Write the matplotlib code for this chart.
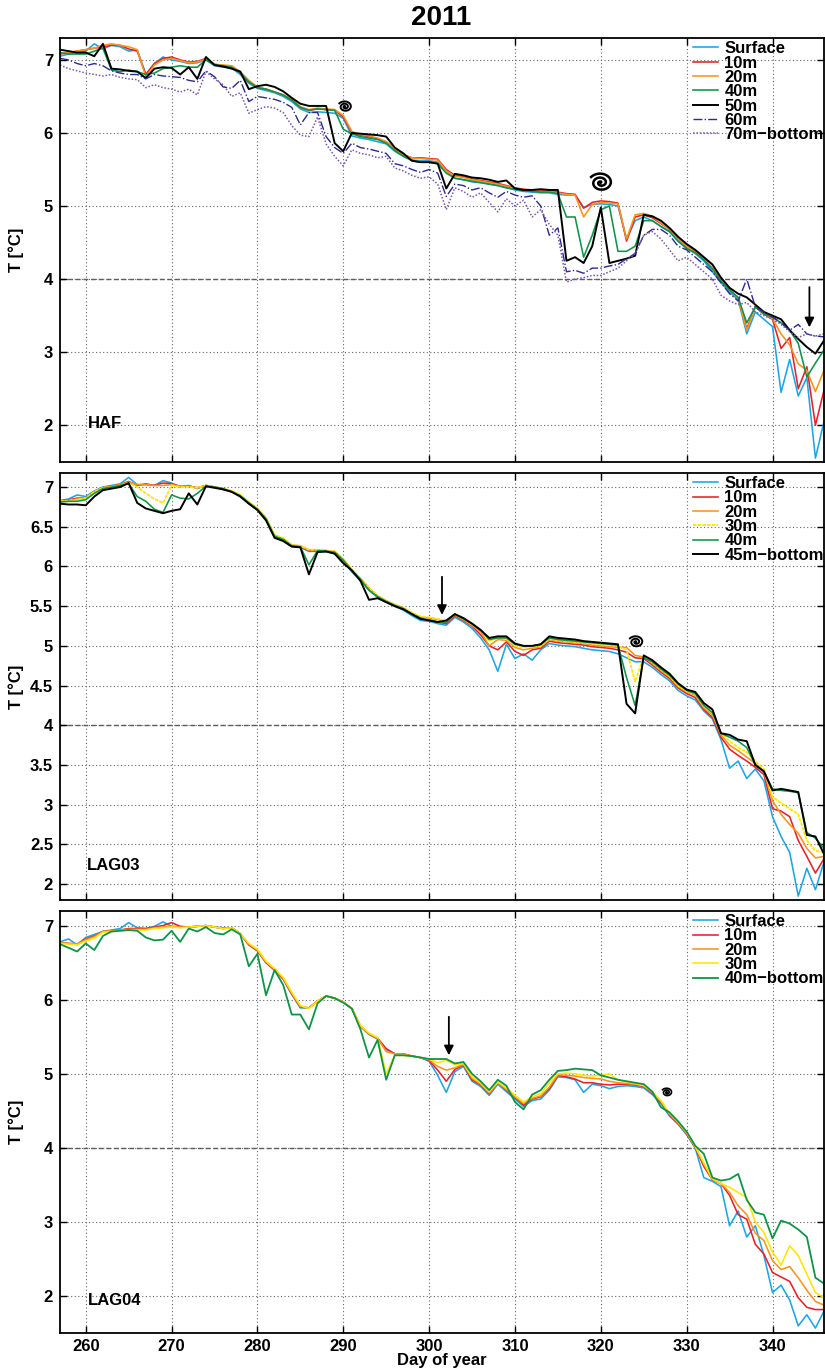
import numpy as np
import matplotlib
matplotlib.use('Agg')
import matplotlib.pyplot as plt
from matplotlib import transforms

plt.rcParams['font.family'] = ['Liberation Sans', 'DejaVu Sans']
plt.rcParams['font.weight'] = 'bold'

# ---------------- data (daily values, day of year 257..346) ----------------
days = np.arange(257, 347)

# HAF
haf_surface = [7.05, 7.08, 7.10, 7.12, 7.22, 7.15, 7.20, 7.18, 7.12, 7.14,
               6.80, 6.95, 7.04, 7.00, 6.98, 6.95, 6.96, 7.00, 6.92, 6.90,
               6.89, 6.80, 6.68, 6.61, 6.58, 6.55, 6.50, 6.43, 6.33, 6.28,
               6.29, 6.28, 6.27, 6.20, 5.96, 5.93, 5.91, 5.88, 5.85, 5.75,
               5.68, 5.63, 5.62, 5.62, 5.60, 5.48, 5.38, 5.36, 5.33, 5.32,
               5.30, 5.28, 5.25, 5.22, 5.20, 5.19, 5.18, 5.18, 5.16, 5.15,
               5.15, 4.98, 5.02, 5.03, 5.02, 5.00, 4.55, 4.80, 4.85, 4.80,
               4.72, 4.65, 4.52, 4.42, 4.35, 4.25, 4.10, 3.95, 3.82, 3.72,
               3.25, 3.55, 3.45, 3.35, 2.45, 2.90, 2.40, 2.65, 1.55, 2.05]
haf_10m = [7.08, 7.10, 7.12, 7.14, 7.16, 7.18, 7.20, 7.20, 7.15, 7.12,
           6.80, 6.95, 7.02, 7.04, 7.00, 6.97, 6.98, 7.02, 6.94, 6.92,
           6.90, 6.82, 6.70, 6.62, 6.60, 6.56, 6.52, 6.45, 6.35, 6.31,
           6.33, 6.32, 6.31, 6.22, 6.00, 5.97, 5.95, 5.92, 5.88, 5.78,
           5.70, 5.66, 5.66, 5.65, 5.64, 5.50, 5.42, 5.40, 5.37, 5.35,
           5.33, 5.31, 5.28, 5.25, 5.23, 5.22, 5.21, 5.21, 5.19, 5.17,
           5.16, 4.97, 5.05, 5.07, 5.06, 5.04, 4.52, 4.85, 4.88, 4.84,
           4.76, 4.68, 4.55, 4.45, 4.38, 4.28, 4.15, 3.98, 3.85, 3.74,
           3.32, 3.62, 3.52, 3.45, 3.05, 3.20, 2.50, 2.80, 2.00, 2.48]
haf_20m = [7.08, 7.10, 7.12, 7.14, 7.16, 7.20, 7.22, 7.20, 7.18, 7.14,
           6.77, 6.93, 7.00, 7.02, 6.99, 6.96, 6.97, 7.01, 6.94, 6.93,
           6.92, 6.84, 6.72, 6.63, 6.60, 6.56, 6.52, 6.46, 6.36, 6.32,
           6.34, 6.33, 6.32, 6.24, 6.02, 5.98, 5.96, 5.93, 5.88, 5.78,
           5.70, 5.66, 5.65, 5.64, 5.63, 5.48, 5.41, 5.39, 5.36, 5.34,
           5.32, 5.30, 5.27, 5.24, 5.22, 5.21, 5.20, 5.20, 5.18, 5.16,
           5.15, 4.85, 5.02, 5.05, 5.04, 5.03, 4.55, 4.88, 4.90, 4.86,
           4.77, 4.68, 4.55, 4.45, 4.37, 4.27, 4.15, 3.97, 3.85, 3.74,
           3.30, 3.62, 3.53, 3.46, 3.25, 3.10, 2.84, 2.75, 2.46, 2.75]
haf_40m = [7.10, 7.08, 7.08, 7.08, 7.12, 7.16, 6.86, 6.84, 6.86, 6.84,
           6.80, 6.82, 6.88, 6.90, 6.92, 6.90, 6.90, 7.00, 6.93, 6.92,
           6.90, 6.82, 6.70, 6.62, 6.60, 6.56, 6.52, 6.45, 6.35, 6.31,
           6.33, 6.32, 6.31, 6.05, 5.99, 5.95, 5.93, 5.91, 5.86, 5.76,
           5.68, 5.62, 5.60, 5.60, 5.58, 5.45, 5.38, 5.36, 5.34, 5.32,
           5.30, 5.28, 5.25, 5.23, 5.21, 5.20, 5.19, 5.19, 5.17, 4.85,
           4.85, 4.30, 4.60, 4.95, 5.00, 4.38, 4.38, 4.45, 4.80, 4.80,
           4.72, 4.65, 4.52, 4.42, 4.36, 4.26, 4.14, 3.97, 3.85, 3.75,
           3.40, 3.62, 3.52, 3.48, 3.40, 3.30, 3.12, 2.66, 2.85, 3.03]
haf_50m = [7.14, 7.12, 7.10, 7.10, 7.05, 7.22, 6.88, 6.87, 6.85, 6.84,
           6.75, 6.88, 6.90, 6.89, 6.80, 6.90, 6.74, 7.04, 6.93, 6.91,
           6.88, 6.84, 6.60, 6.64, 6.66, 6.63, 6.57, 6.48, 6.40, 6.37,
           6.37, 6.37, 5.86, 5.75, 6.00, 5.99, 5.98, 5.97, 5.95, 5.80,
           5.72, 5.62, 5.60, 5.60, 5.58, 5.24, 5.44, 5.42, 5.39, 5.38,
           5.36, 5.33, 5.35, 5.24, 5.22, 5.22, 5.23, 5.22, 5.22, 4.25,
           4.30, 4.22, 4.45, 4.98, 4.22, 4.25, 4.28, 4.32, 4.88, 4.86,
           4.80, 4.70, 4.58, 4.48, 4.40, 4.30, 4.20, 4.02, 3.88, 3.80,
           3.75, 3.65, 3.55, 3.50, 3.45, 3.30, 3.18, 3.07, 2.98, 3.16]
haf_60m = [7.02, 7.00, 6.95, 6.92, 6.95, 6.92, 6.85, 6.82, 6.80, 6.80,
           6.74, 6.80, 6.78, 6.77, 6.76, 6.72, 6.70, 6.85, 6.77, 6.63,
           6.61, 6.72, 6.43, 6.50, 6.48, 6.46, 6.42, 6.35, 6.11, 6.28,
           6.28, 5.95, 5.80, 5.72, 5.86, 5.80, 5.78, 5.75, 5.72, 5.58,
           5.55, 5.50, 5.46, 5.50, 5.45, 5.13, 5.30, 5.28, 5.22, 5.25,
           5.18, 5.12, 5.20, 5.15, 5.12, 5.14, 5.00, 4.60, 4.70, 4.10,
           4.12, 4.08, 4.15, 4.15, 4.18, 4.20, 4.28, 4.35, 4.60, 4.68,
           4.68, 4.60, 4.45, 4.40, 4.30, 4.20, 4.10, 3.95, 3.80, 3.70,
           4.00, 3.62, 3.55, 3.48, 3.40, 3.30, 3.38, 3.25, 3.22, 3.21]
haf_70m = [6.93, 6.88, 6.85, 6.82, 6.80, 6.78, 6.80, 6.76, 6.74, 6.73,
           6.62, 6.66, 6.62, 6.60, 6.56, 6.60, 6.52, 6.84, 6.74, 6.66,
           6.50, 6.55, 6.27, 6.32, 6.36, 6.34, 6.28, 6.10, 5.97, 5.95,
           6.22, 5.85, 5.68, 5.55, 5.77, 5.72, 5.70, 5.66, 5.68, 5.52,
           5.48, 5.42, 5.38, 5.40, 5.30, 4.95, 5.25, 5.20, 5.12, 5.18,
           5.05, 4.92, 5.10, 5.00, 5.08, 4.85, 4.95, 4.75, 4.60, 3.96,
           4.00, 4.02, 4.05, 4.05, 4.10, 4.15, 4.25, 4.35, 4.60, 4.65,
           4.55, 4.40, 4.25, 4.30, 4.20, 4.10, 4.00, 3.78, 3.70, 3.65,
           3.68, 3.55, 3.50, 3.45, 3.38, 3.28, 3.20, 3.25, 3.22, 3.25]

# LAG03
lag03_surface = [6.83, 6.85, 6.90, 6.88, 6.95, 7.00, 7.02, 7.04, 7.12, 7.03,
                 7.03, 7.02, 7.08, 7.05, 7.00, 7.02, 6.98, 7.02, 7.00, 6.98,
                 6.94, 6.88, 6.79, 6.71, 6.59, 6.37, 6.33, 6.25, 6.24, 6.19,
                 6.19, 6.18, 6.17, 6.07, 5.93, 5.82, 5.70, 5.61, 5.55, 5.50,
                 5.45, 5.38, 5.32, 5.31, 5.28, 5.26, 5.36, 5.30, 5.22, 5.10,
                 4.95, 4.68, 5.02, 4.84, 4.90, 4.82, 4.95, 5.03, 5.01, 5.00,
                 4.99, 4.97, 4.95, 4.94, 4.93, 4.90, 4.85, 4.80, 4.80, 4.73,
                 4.64, 4.56, 4.44, 4.37, 4.32, 4.18, 4.08, 3.82, 3.46, 3.55,
                 3.33, 3.45, 3.30, 2.85, 2.60, 2.40, 1.85, 2.20, 1.93, 2.28]
lag03_10m = [6.82, 6.84, 6.86, 6.86, 6.94, 6.99, 7.01, 7.03, 7.07, 7.02,
             7.04, 7.02, 7.05, 7.04, 7.01, 7.01, 6.99, 7.02, 7.00, 6.97,
             6.94, 6.89, 6.80, 6.72, 6.60, 6.38, 6.34, 6.26, 6.25, 6.20,
             6.20, 6.19, 6.18, 6.08, 5.95, 5.84, 5.72, 5.62, 5.56, 5.51,
             5.47, 5.40, 5.34, 5.33, 5.30, 5.28, 5.38, 5.32, 5.25, 5.14,
             5.00, 4.95, 5.05, 4.93, 4.88, 4.95, 4.97, 5.06, 5.04, 5.03,
             5.02, 5.01, 4.99, 4.98, 4.97, 4.95, 4.92, 4.85, 4.84, 4.76,
             4.67, 4.59, 4.47, 4.40, 4.35, 4.20, 4.10, 3.85, 3.70, 3.62,
             3.55, 3.47, 3.38, 2.95, 2.92, 2.85, 2.55, 2.35, 2.14, 2.32]
lag03_20m = [6.82, 6.83, 6.85, 6.86, 6.94, 6.99, 7.01, 7.03, 7.06, 7.03,
             7.03, 7.02, 7.02, 7.03, 7.01, 7.01, 6.99, 7.02, 7.00, 6.98,
             6.95, 6.90, 6.81, 6.73, 6.61, 6.39, 6.35, 6.27, 6.26, 6.21,
             6.21, 6.20, 6.19, 6.09, 5.96, 5.85, 5.73, 5.63, 5.57, 5.52,
             5.48, 5.41, 5.36, 5.35, 5.33, 5.30, 5.39, 5.33, 5.26, 5.18,
             5.00, 5.08, 5.07, 4.98, 4.95, 4.97, 4.99, 5.08, 5.06, 5.05,
             5.04, 5.03, 5.01, 5.00, 4.99, 4.98, 4.98, 4.88, 4.86, 4.78,
             4.69, 4.61, 4.49, 4.42, 4.38, 4.22, 4.13, 3.88, 3.75, 3.68,
             3.60, 3.52, 3.42, 3.05, 2.88, 2.75, 2.64, 2.45, 2.33, 2.35]
lag03_30m = [6.82, 6.83, 6.84, 6.86, 6.94, 6.99, 7.00, 7.02, 7.05, 7.00,
             6.92, 6.85, 6.80, 7.02, 7.00, 7.00, 6.99, 7.02, 7.00, 6.98,
             6.95, 6.90, 6.81, 6.73, 6.61, 6.40, 6.36, 6.27, 6.26, 6.21,
             6.21, 6.20, 6.19, 6.09, 5.96, 5.85, 5.73, 5.63, 5.57, 5.52,
             5.48, 5.42, 5.37, 5.36, 5.34, 5.31, 5.40, 5.34, 5.27, 5.20,
             5.06, 5.10, 5.09, 5.00, 4.98, 4.99, 5.00, 5.09, 5.07, 5.06,
             5.05, 5.04, 5.03, 5.02, 5.01, 5.00, 4.95, 4.55, 4.87, 4.79,
             4.70, 4.62, 4.50, 4.43, 4.39, 4.24, 4.15, 3.90, 3.80, 3.72,
             3.66, 3.55, 3.45, 3.10, 3.02, 2.95, 2.88, 2.55, 2.42, 2.40]
lag03_40m = [6.81, 6.82, 6.82, 6.84, 6.92, 6.98, 7.00, 7.02, 7.04, 6.88,
             6.82, 6.72, 6.68, 6.90, 6.86, 6.85, 6.92, 7.01, 7.00, 6.98,
             6.94, 6.89, 6.80, 6.72, 6.60, 6.38, 6.34, 6.26, 6.25, 6.02,
             6.20, 6.19, 6.18, 6.08, 5.95, 5.84, 5.70, 5.62, 5.56, 5.51,
             5.47, 5.40, 5.35, 5.32, 5.30, 5.30, 5.40, 5.34, 5.28, 5.20,
             5.08, 5.10, 5.10, 5.02, 5.00, 5.00, 5.02, 5.10, 5.08, 5.07,
             5.06, 5.05, 5.04, 5.03, 5.02, 5.01, 4.60, 4.25, 4.85, 4.80,
             4.71, 4.63, 4.52, 4.44, 4.40, 4.25, 4.16, 3.90, 3.85, 3.80,
             3.72, 3.50, 3.42, 3.20, 3.18, 3.17, 3.15, 2.65, 2.58, 2.45]
lag03_45m = [6.79, 6.78, 6.78, 6.77, 6.88, 6.96, 6.98, 7.00, 7.05, 6.80,
             6.73, 6.70, 6.67, 6.70, 6.72, 6.92, 6.78, 7.01, 6.99, 6.97,
             6.94, 6.88, 6.79, 6.71, 6.58, 6.36, 6.32, 6.25, 6.24, 5.90,
             6.18, 6.19, 6.16, 6.04, 5.95, 5.82, 5.58, 5.60, 5.55, 5.50,
             5.46, 5.40, 5.34, 5.32, 5.30, 5.32, 5.40, 5.35, 5.28, 5.20,
             5.10, 5.12, 5.12, 5.03, 5.00, 5.00, 5.02, 5.12, 5.10, 5.09,
             5.08, 5.06, 5.05, 5.04, 5.03, 5.02, 4.27, 4.15, 4.88, 4.82,
             4.73, 4.65, 4.53, 4.45, 4.42, 4.28, 4.20, 3.90, 3.88, 3.82,
             3.80, 3.50, 3.42, 3.18, 3.20, 3.18, 3.16, 2.62, 2.60, 2.38]

# LAG04
lag04_surface = [6.78, 6.82, 6.74, 6.84, 6.88, 6.92, 6.94, 6.96, 7.04, 6.97,
                 6.96, 6.99, 7.05, 6.99, 6.98, 6.98, 6.99, 7.00, 6.98, 6.97,
                 6.97, 6.89, 6.74, 6.66, 6.50, 6.40, 6.28, 6.07, 5.89, 5.89,
                 5.98, 6.05, 6.02, 5.97, 5.88, 5.64, 5.53, 5.47, 5.33, 5.27,
                 5.26, 5.24, 5.22, 5.17, 4.98, 4.75, 5.03, 5.10, 4.90, 4.83,
                 4.71, 4.86, 4.76, 4.66, 4.56, 4.64, 4.66, 4.78, 4.96, 4.95,
                 4.92, 4.75, 4.86, 4.84, 4.80, 4.83, 4.84, 4.83, 4.81, 4.72,
                 4.60, 4.43, 4.32, 4.18, 4.00, 3.60, 3.55, 3.48, 2.95, 3.15,
                 2.80, 2.95, 2.55, 2.05, 2.15, 1.95, 1.60, 1.75, 1.57, 1.80]
lag04_10m = [6.77, 6.76, 6.75, 6.82, 6.86, 6.92, 6.93, 6.94, 6.96, 6.96,
             6.96, 6.98, 7.00, 7.04, 6.99, 6.98, 6.99, 7.00, 6.98, 6.96,
             6.97, 6.89, 6.74, 6.66, 6.50, 6.40, 6.28, 6.08, 5.90, 5.89,
             5.98, 6.05, 6.02, 5.97, 5.88, 5.64, 5.54, 5.48, 5.34, 5.27,
             5.27, 5.24, 5.22, 5.18, 5.05, 4.90, 5.06, 5.12, 4.92, 4.85,
             4.73, 4.88, 4.78, 4.68, 4.58, 4.66, 4.69, 4.80, 4.98, 4.96,
             4.93, 4.88, 4.88, 4.86, 4.85, 4.86, 4.86, 4.85, 4.83, 4.74,
             4.62, 4.45, 4.33, 4.19, 4.01, 3.75, 3.57, 3.52, 3.36, 3.10,
             3.04, 2.70, 2.57, 2.32, 2.26, 2.20, 1.98, 1.85, 1.82, 1.82]
lag04_20m = [6.77, 6.76, 6.75, 6.81, 6.85, 6.92, 6.93, 6.94, 6.95, 6.95,
             6.95, 6.97, 6.98, 6.99, 6.98, 6.98, 6.99, 7.00, 6.98, 6.96,
             6.97, 6.89, 6.75, 6.67, 6.51, 6.41, 6.29, 6.09, 5.91, 5.89,
             5.98, 6.05, 6.02, 5.97, 5.88, 5.65, 5.54, 5.48, 5.30, 5.27,
             5.27, 5.24, 5.22, 5.19, 5.10, 5.05, 5.08, 5.13, 4.94, 4.86,
             4.74, 4.88, 4.79, 4.69, 4.60, 4.67, 4.70, 4.82, 4.99, 4.98,
             4.97, 4.95, 4.94, 4.93, 4.90, 4.88, 4.87, 4.86, 4.84, 4.75,
             4.63, 4.46, 4.34, 4.20, 4.02, 3.78, 3.58, 3.52, 3.40, 3.22,
             3.10, 2.85, 2.75, 2.48, 2.36, 2.40, 2.25, 2.08, 1.93, 1.88]
lag04_30m = [6.76, 6.75, 6.74, 6.79, 6.83, 6.91, 6.92, 6.93, 6.94, 6.94,
             6.94, 6.96, 6.97, 6.98, 6.97, 6.98, 6.99, 7.00, 6.98, 6.96,
             6.97, 6.89, 6.76, 6.68, 6.52, 6.42, 6.30, 6.10, 5.92, 5.88,
             5.98, 6.05, 6.02, 5.97, 5.88, 5.65, 5.55, 5.49, 5.00, 5.25,
             5.25, 5.24, 5.22, 5.20, 5.15, 5.18, 5.12, 5.14, 4.96, 4.88,
             4.76, 4.89, 4.81, 4.71, 4.62, 4.69, 4.73, 4.88, 5.00, 5.01,
             5.00, 4.98, 4.97, 4.98, 5.00, 4.92, 4.89, 4.87, 4.84, 4.76,
             4.64, 4.47, 4.35, 4.21, 4.02, 3.80, 3.58, 3.52, 3.47, 3.40,
             3.33, 3.00, 2.86, 2.60, 2.42, 2.68, 2.55, 2.30, 2.05, 1.98]
lag04_40m = [6.75, 6.70, 6.65, 6.76, 6.67, 6.86, 6.92, 6.93, 6.94, 6.93,
             6.84, 6.80, 6.81, 6.93, 6.78, 6.96, 6.92, 6.98, 6.90, 6.88,
             6.95, 6.88, 6.45, 6.62, 6.06, 6.40, 6.20, 5.80, 5.80, 5.60,
             5.95, 6.05, 6.02, 5.96, 5.88, 5.60, 5.22, 5.46, 4.92, 5.25,
             5.25, 5.24, 5.22, 5.20, 5.20, 5.20, 5.14, 5.16, 5.00, 4.90,
             4.78, 4.92, 4.84, 4.62, 4.52, 4.72, 4.78, 4.92, 5.04, 5.05,
             5.07, 5.06, 5.05, 4.98, 4.95, 4.92, 4.90, 4.88, 4.86, 4.76,
             4.55, 4.48, 4.36, 4.22, 4.03, 3.92, 3.60, 3.56, 3.58, 3.65,
             3.30, 3.13, 3.10, 2.78, 3.02, 2.98, 2.90, 2.80, 2.25, 2.17]

haf_labels = ['Surface', '10m', '20m', '40m', '50m', '60m', '70m\u2212bottom']
lag03_labels = ['Surface', '10m', '20m', '30m', '40m', '45m\u2212bottom']
lag04_labels = ['Surface', '10m', '20m', '30m', '40m\u2212bottom']
xticks = [260, 270, 280, 290, 300, 310, 320, 330, 340]

# ---------------- styles ----------------
C_SURF = '#1DA5E6'
C_10 = '#E8202A'
C_20 = '#F7941E'
C_30 = '#FFE600'
C_40 = '#0E9447'
C_50 = '#000000'
C_60 = '#2C2A8E'
C_70 = '#7D55AE'

fig = plt.figure(figsize=(8.25, 13.71), dpi=100)
L, W = 0.0727, 0.9261
ax1 = fig.add_axes([L, 0.6632, W, 0.3091])
ax2 = fig.add_axes([L, 0.3435, W, 0.3117])
ax3 = fig.add_axes([L, 0.0275, W, 0.3082])

LW = 1.15


def style(ax, ylim, yticks, ytlabels, xlabels=False):
    ax.set_xlim(257, 346)
    ax.set_ylim(*ylim)
    ax.set_xticks(xticks)
    if not xlabels:
        ax.set_xticklabels([])
    ax.set_yticks(yticks)
    ax.set_yticklabels(ytlabels)
    ax.grid(True, linestyle=(0, (1, 2.2)), color='0.4', linewidth=0.8)
    ax.axhline(4, color='0.35', linestyle=(0, (3.5, 2)), linewidth=1.0, zorder=1)
    ax.tick_params(direction='in', top=True, right=True, length=5, width=1.0,
                   labelsize=12, pad=5)
    for s in ax.spines.values():
        s.set_linewidth(1.3)
    ax.set_ylabel('T [\u00b0C]', fontsize=12, fontweight='bold')
    ax.yaxis.set_label_coords(-0.047, 0.5)


def legend(ax):
    ax.legend(loc='upper right', bbox_to_anchor=(1.004, 1.0), frameon=False,
              fontsize=12, handlelength=1.55, handletextpad=0.36,
              labelspacing=-0.04, borderpad=0.2, borderaxespad=0.0)


def spiral(ax, x, y, size_px, lw=1.4):
    t = np.linspace(0.0, 2.4 * 2 * np.pi, 300)
    r = t / t[-1]
    xs = r * np.cos(t) * size_px / 2 / 100.0
    ys = r * np.sin(t) * size_px / 2 * 0.8 / 100.0
    trans = fig.dpi_scale_trans + transforms.ScaledTranslation(x, y, ax.transData)
    ax.plot(xs, ys, color='k', lw=lw, transform=trans, clip_on=False)


def arrow(ax, x, y0, y1):
    ax.annotate('', xy=(x, y1), xytext=(x, y0),
                arrowprops=dict(arrowstyle='-|>', color='k', lw=1.3,
                                mutation_scale=14, shrinkA=0, shrinkB=0))


# ---------------- HAF ----------------
ax1.plot(days, haf_surface, color=C_SURF, lw=LW, label=haf_labels[0])
ax1.plot(days, haf_10m, color=C_10, lw=LW, label=haf_labels[1])
ax1.plot(days, haf_20m, color=C_20, lw=LW, label=haf_labels[2])
ax1.plot(days, haf_40m, color=C_40, lw=LW, label=haf_labels[3])
ax1.plot(days, haf_50m, color=C_50, lw=1.4, label=haf_labels[4])
ax1.plot(days, haf_60m, color=C_60, lw=1.0, linestyle='-.', label=haf_labels[5])
ax1.plot(days, haf_70m, color=C_70, lw=1.1, linestyle=(0, (1, 1.2)), label=haf_labels[6])
legend(ax1)
spiral(ax1, 290.2, 6.36, 14)
spiral(ax1, 320.0, 5.32, 24, lw=1.8)
arrow(ax1, 344.3, 3.89, 3.34)
ax1.text(260.3, 2.03, 'HAF', fontsize=12, fontweight='bold', va='center', ha='left')
style(ax1, (1.5, 7.3), [2, 3, 4, 5, 6, 7], ['2', '3', '4', '5', '6', '7'])

# ---------------- LAG03 ----------------
ax2.plot(days, lag03_surface, color=C_SURF, lw=LW, label=lag03_labels[0])
ax2.plot(days, lag03_10m, color=C_10, lw=LW, label=lag03_labels[1])
ax2.plot(days, lag03_20m, color=C_20, lw=LW, label=lag03_labels[2])
ax2.plot(days, lag03_30m, color=C_30, lw=1.3, linestyle=(0, (2, 0.6)), label=lag03_labels[3])
ax2.plot(days, lag03_40m, color=C_40, lw=LW, label=lag03_labels[4])
ax2.plot(days, lag03_45m, color=C_50, lw=1.4, label=lag03_labels[5])
legend(ax2)
spiral(ax2, 324.1, 5.05, 15)
arrow(ax2, 301.5, 5.87, 5.39)
ax2.text(260.1, 2.24, 'LAG03', fontsize=12, fontweight='bold', va='center', ha='left')
yt2 = [2, 2.5, 3, 3.5, 4, 4.5, 5, 5.5, 6, 6.5, 7]
style(ax2, (1.8, 7.18), yt2, ['2', '2.5', '3', '3.5', '4', '4.5', '5', '5.5', '6', '6.5', '7'])

# ---------------- LAG04 ----------------
ax3.plot(days, lag04_surface, color=C_SURF, lw=LW, label=lag04_labels[0])
ax3.plot(days, lag04_10m, color=C_10, lw=LW, label=lag04_labels[1])
ax3.plot(days, lag04_20m, color=C_20, lw=LW, label=lag04_labels[2])
ax3.plot(days, lag04_30m, color=C_30, lw=LW, label=lag04_labels[3])
ax3.plot(days, lag04_40m, color=C_40, lw=1.3, label=lag04_labels[4])
legend(ax3)
spiral(ax3, 327.7, 4.75, 11, lw=1.2)
arrow(ax3, 302.3, 5.77, 5.25)
ax3.text(260.3, 1.94, 'LAG04', fontsize=12, fontweight='bold', va='center', ha='left')
style(ax3, (1.5, 7.2), [2, 3, 4, 5, 6, 7], ['2', '3', '4', '5', '6', '7'], xlabels=True)
ax3.tick_params(axis='x', pad=4)

fig.text(0.535, 0.987, '2011', ha='center', va='center', fontsize=20, fontweight='bold')
fig.text(0.535, 0.0075, 'Day of year', ha='center', va='center', fontsize=12, fontweight='bold')

fig.savefig('out.png', dpi=100)
